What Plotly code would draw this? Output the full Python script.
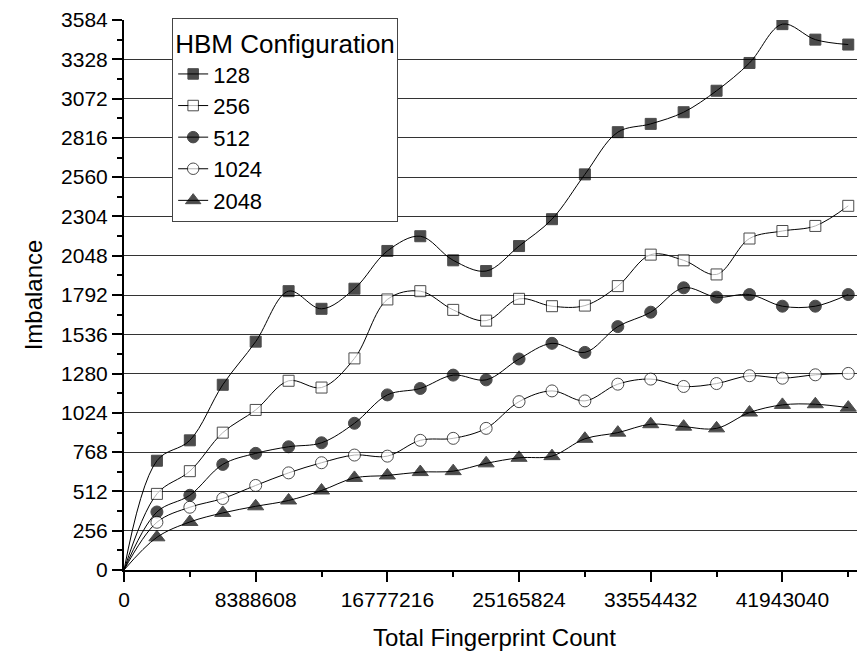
import plotly.graph_objects as go

# x: total fingerprint count, step 2^21
x_vals = [i * 2097152 for i in range(23)]

s128 = [0, 712, 845, 1207, 1488, 1817, 1702, 1833, 2079, 2175, 2018, 1948, 2111, 2286,
        2578, 2853, 2907, 2983, 3123, 3304, 3557, 3456, 3424]
s256 = [0, 496, 644, 895, 1043, 1233, 1189, 1379, 1763, 1817, 1695, 1625, 1767, 1719,
        1723, 1850, 2055, 2018, 1926, 2160, 2209, 2242, 2373]
s512 = [0, 378, 487, 688, 760, 803, 829, 956, 1141, 1183, 1270, 1239, 1375, 1477,
        1418, 1586, 1680, 1839, 1778, 1795, 1719, 1719, 1795]
s1024 = [0, 311, 409, 466, 551, 633, 699, 749, 742, 845, 858, 923, 1097, 1167,
         1102, 1211, 1244, 1196, 1215, 1266, 1250, 1272, 1281]
s2048 = [0, 213, 313, 372, 415, 453, 518, 600, 616, 638, 644, 695, 731, 742,
         855, 895, 950, 934, 923, 1026, 1076, 1080, 1058]

series_names = ["128", "256", "512", "1024", "2048"]
series_data = [s128, s256, s512, s1024, s2048]

x_tick_vals = [0, 8388608, 16777216, 25165824, 33554432, 41943040]
x_tick_text = ["0", "8388608", "16777216", "25165824", "33554432", "41943040"]
y_tick_vals = [0, 256, 512, 768, 1024, 1280, 1536, 1792, 2048, 2304, 2560, 2816, 3072, 3328, 3584]
y_grid_vals = [256, 512, 768, 1024, 1280, 1536, 1792, 2048, 2304, 2560, 2816, 3072, 3328]

styles = [
    dict(symbol="square", color="black", size=11),
    dict(symbol="square", color="white", size=11),
    dict(symbol="circle", color="black", size=12),
    dict(symbol="circle", color="white", size=12),
    dict(symbol="triangle-up", color="black", size=14),
]

FONT = "Liberation Sans"
Y_RANGE = [0, 3584]

fig = go.Figure()
for k, (name, ys, st) in enumerate(zip(series_names, series_data, styles)):
    sizes = [0] + [st["size"]] * (len(ys) - 1)
    fig.add_trace(go.Scatter(
        x=x_vals, y=ys, name=name, mode="lines+markers",
        yaxis="y2" if k == 0 else "y",
        line=dict(color="black", width=1, shape="spline", smoothing=1),
        marker=dict(symbol=st["symbol"], color=st["color"], size=sizes,
                    line=dict(color="black", width=1)),
    ))

# page body has an 8px margin: figure is sized/offset to compensate
fig.update_layout(
    width=857, height=643,
    margin=dict(l=116, r=0, t=12, b=81),
    paper_bgcolor="white", plot_bgcolor="white",
    font=dict(family=FONT, color="black", size=21),
    showlegend=True,
    legend=dict(
        title=dict(text="HBM Configuration", font=dict(size=26, family=FONT)),
        font=dict(size=22, family=FONT),
        x=0.065, y=1.003, xanchor="left", yanchor="top",
        bgcolor="white", bordercolor="#444", borderwidth=1,
        tracegroupgap=0, traceorder="normal",
    ),
    xaxis=dict(
        range=[0, 47204000], tickvals=x_tick_vals, ticktext=x_tick_text,
        showgrid=False, zeroline=False, showline=True, linecolor="black", linewidth=2,
        ticks="outside", ticklen=10, tickwidth=1.5, tickcolor="black",
        tickfont=dict(size=21, family=FONT), automargin=False,
        minor=dict(dtick=4194304, tick0=0, ticks="outside", ticklen=5, tickwidth=1.5,
                   tickcolor="black", showgrid=False),
        title=dict(text="Total Fingerprint Count", font=dict(size=24, family=FONT), standoff=22),
    ),
    yaxis=dict(
        range=Y_RANGE, tickvals=y_tick_vals,
        showgrid=False, zeroline=False, showline=True, linecolor="black", linewidth=2,
        ticks="outside", ticklen=10, tickwidth=1.5, tickcolor="black",
        tickfont=dict(size=21, family=FONT), automargin=False,
        minor=dict(dtick=128, tick0=0, ticks="outside", ticklen=5, tickwidth=1.5,
                   tickcolor="black", showgrid=False),
        title=dict(text="Imbalance", font=dict(size=24, family=FONT), standoff=12),
    ),
    yaxis2=dict(
        overlaying="y", range=Y_RANGE, tickvals=y_grid_vals,
        showgrid=True, gridcolor="#333", gridwidth=1, zeroline=False,
        showticklabels=False, ticks="", showline=False, automargin=False,
    ),
)

fig.write_html("out.html")
